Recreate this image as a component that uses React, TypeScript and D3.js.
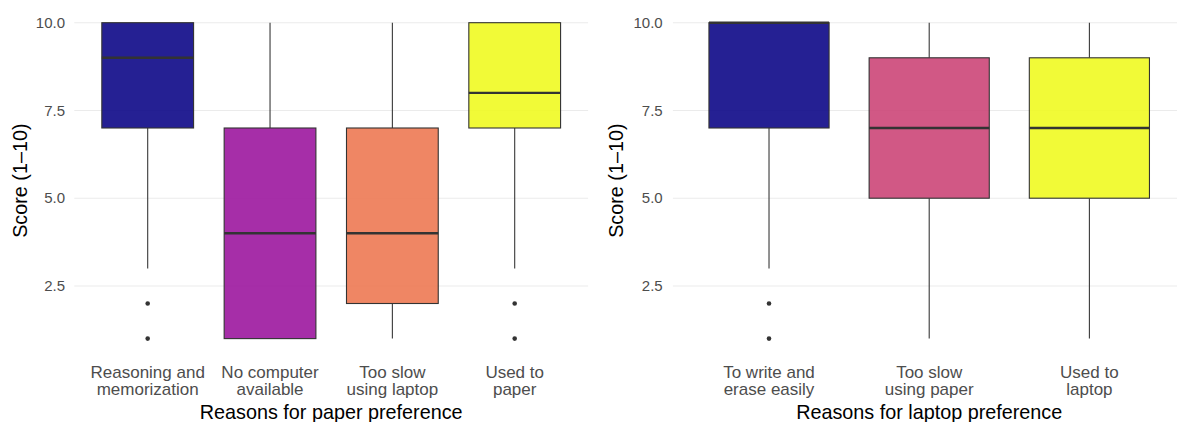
import React from "react";
import * as d3 from "d3";

// ---- Data ----
const paperCategories = [
  ["Reasoning and", "memorization"],
  ["No computer", "available"],
  ["Too slow", "using laptop"],
  ["Used to", "paper"],
];
const paperLowerWhisker = [3, 1, 1, 3];
const paperQ1 = [7, 1, 2, 7];
const paperMedian = [9, 4, 4, 8];
const paperQ3 = [10, 7, 7, 10];
const paperUpperWhisker = [10, 10, 10, 10];
const paperOutliers = [[2, 1], [], [], [2, 1]];
const paperColors = ["#0D0887", "#9C179E", "#ED7953", "#F0F921"];

const laptopCategories = [
  ["To write and", "erase easily"],
  ["Too slow", "using paper"],
  ["Used to", "laptop"],
];
const laptopLowerWhisker = [3, 1, 1];
const laptopQ1 = [7, 5, 5];
const laptopMedian = [10, 7, 7];
const laptopQ3 = [10, 9, 9];
const laptopUpperWhisker = [10, 10, 10];
const laptopOutliers = [[2, 1], [], []];
const laptopColors = ["#0D0887", "#CC4678", "#F0F921"];

const yTicks = [2.5, 5.0, 7.5, 10.0];
const yTitle = "Score (1–10)";

const FONT = "Arial, 'Liberation Sans', Helvetica, sans-serif";

type PanelProps = {
  x0: number;
  x1: number;
  tickX: number;
  titleX: number;
  gridStart: number;
  gridEnd: number;
  categories: string[][];
  lo: number[];
  q1: number[];
  med: number[];
  q3: number[];
  hi: number[];
  outliers: number[][];
  colors: string[];
  xTitle: string;
};

const y = d3.scaleLinear().domain([0.55, 10.45]).range([354.4, 6.9]);

function Panel(p: PanelProps) {
  const keys = p.categories.map((_, i) => String(i));
  const x = d3.scalePoint<string>().domain(keys).range([p.x0, p.x1]).padding(0.6);
  const bw = x.step() * 0.75;
  return (
    <g>
      {yTicks.map((t) => (
        <g key={t}>
          <line x1={p.gridStart} x2={p.gridEnd} y1={y(t)} y2={y(t)} stroke="#EBEBEB" strokeWidth={1.07} />
          <text x={p.tickX} y={y(t)} dy="0.35em" textAnchor="end" fill="#4D4D4D" fontSize={15} fontFamily={FONT}>
            {t.toFixed(1)}
          </text>
        </g>
      ))}
      {keys.map((k, i) => {
        const cx = x(k)!;
        return (
          <g key={k}>
            <line x1={cx} x2={cx} y1={y(p.q3[i])} y2={y(p.hi[i])} stroke="#333333" strokeWidth={1.07} />
            <line x1={cx} x2={cx} y1={y(p.q1[i])} y2={y(p.lo[i])} stroke="#333333" strokeWidth={1.07} />
            <rect
              x={cx - bw / 2}
              width={bw}
              y={y(p.q3[i])}
              height={y(p.q1[i]) - y(p.q3[i])}
              fill={p.colors[i]}
              fillOpacity={0.9}
              stroke="#333333"
              strokeWidth={1.1}
            />
            <line x1={cx - bw / 2} x2={cx + bw / 2} y1={y(p.med[i])} y2={y(p.med[i])} stroke="#333333" strokeWidth={2.4} />
            {p.outliers[i].map((o, j) => (
              <circle key={j} cx={cx} cy={y(o)} r={2.3} fill="#333333" />
            ))}
            {p.categories[i].map((line, j) => (
              <text
                key={j}
                x={cx}
                y={377.7 + j * 17.3}
                textAnchor="middle"
                fill="#4D4D4D"
                fontSize={17}
                fontFamily={FONT}
              >
                {line}
              </text>
            ))}
          </g>
        );
      })}
      <text x={(p.x0 + p.x1) / 2} y={419} textAnchor="middle" fill="#000" fontSize={19.8} fontFamily={FONT}>
        {p.xTitle}
      </text>
      <text
        transform={`translate(${p.titleX},${(y.range()[0] + y.range()[1]) / 2}) rotate(-90)`}
        textAnchor="middle"
        fill="#000"
        fontSize={19.8}
        fontFamily={FONT}
      >
        {yTitle}
      </text>
    </g>
  );
}

export default function App() {
  return (
    <svg
      width={1177}
      height={422}
      style={{ position: "fixed", left: 0, top: 0, background: "#fff" }}
    >
      <rect width={1177} height={422} fill="#fff" />
      <Panel
        x0={74.3}
        x1={588.1}
        tickX={65}
        titleX={27}
        gridStart={74.3}
        gridEnd={588.1}
        categories={paperCategories}
        lo={paperLowerWhisker}
        q1={paperQ1}
        med={paperMedian}
        q3={paperQ3}
        hi={paperUpperWhisker}
        outliers={paperOutliers}
        colors={paperColors}
        xTitle="Reasons for paper preference"
      />
      <Panel
        x0={672.9}
        x1={1185.5}
        tickX={662.7}
        titleX={623.3}
        gridStart={672.9}
        gridEnd={1185.5}
        categories={laptopCategories}
        lo={laptopLowerWhisker}
        q1={laptopQ1}
        med={laptopMedian}
        q3={laptopQ3}
        hi={laptopUpperWhisker}
        outliers={laptopOutliers}
        colors={laptopColors}
        xTitle="Reasons for laptop preference"
      />
    </svg>
  );
}
